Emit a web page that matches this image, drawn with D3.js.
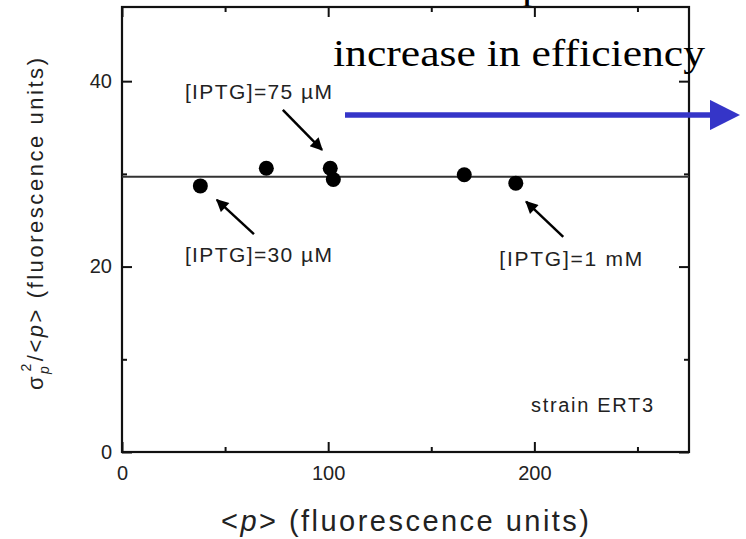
<!DOCTYPE html>
<html><head><meta charset="utf-8">
<script src="https://cdn.jsdelivr.net/npm/d3@7"></script>
<style>body{margin:0;background:#fff}svg{display:block}</style>
</head><body><svg id="c" width="746" height="539"></svg>
<script>
// data
const meanP = [38, 70, 101, 102.5, 166, 191];
const noiseStrength = [28.7, 30.6, 30.6, 29.4, 29.9, 29.0];
const fitLevel = 29.7;
const xTicksMajor = [0, 100, 200];
const xTicksMinor = [50, 150, 250];
const yTicksMajor = [0, 20, 40];
const yTicksMinor = [10, 30];
const annotations = [
  {label: "[IPTG]=75 µM", from: [78, 36.9], to: [97, 32.6], tx: 30.5, ty: 38.1, w: 147},
  {label: "[IPTG]=30 µM", from: [64, 23.5], to: [46, 27.2], tx: 30.5, ty: 20.5, w: 147},
  {label: "[IPTG]=1 mM", from: [214, 23.2], to: [196, 27.0], tx: 183, ty: 20.1, w: 143}
];

const svg = d3.select("#c");
const L = 122, R = 689, T = 7, B = 452;
const x = d3.scaleLinear().domain([0, 275]).range([L, R]);
const y = d3.scaleLinear().domain([0, 48]).range([B, T]);
const SANS = "Liberation Sans, Arial, sans-serif";

const defs = svg.append("defs");
defs.append("marker").attr("id","ah").attr("viewBox","0 0 10 10").attr("refX",9).attr("refY",5)
  .attr("markerWidth",5.5).attr("markerHeight",5).attr("orient","auto")
  .append("path").attr("d","M0,0 L10,5 L0,10 z").attr("fill","#000");
defs.append("marker").attr("id","bh").attr("viewBox","0 0 10 10").attr("refX",2).attr("refY",5)
  .attr("markerWidth",5.5).attr("markerHeight",5.5).attr("markerUnits","strokeWidth").attr("orient","auto")
  .append("path").attr("d","M0,0 L10,5 L0,10 z").attr("fill","#3535c8");

// clipped slide title fragment (only the descender shows, as in the reference)
svg.append("text").attr("x",522).attr("y",-2).attr("font-family","Liberation Serif")
  .attr("font-size",44).text("p");

// axes (ticks inward)
const tickFmt = d3.format("d");
svg.append("g").attr("transform",`translate(0,${B})`)
  .call(d3.axisBottom(x).tickValues(xTicksMajor).tickSize(-10).tickPadding(14).tickFormat(tickFmt));
svg.append("g").attr("transform",`translate(0,${T})`)
  .call(d3.axisTop(x).tickValues(xTicksMajor).tickSize(-10).tickFormat(""));
svg.append("g").attr("transform",`translate(${L},0)`)
  .call(d3.axisLeft(y).tickValues(yTicksMajor).tickSize(-10).tickPadding(10).tickFormat(tickFmt));
svg.append("g").attr("transform",`translate(${R},0)`)
  .call(d3.axisRight(y).tickValues(yTicksMajor).tickSize(-10).tickFormat(""));
svg.append("g").attr("transform",`translate(0,${B})`).call(d3.axisBottom(x).tickValues(xTicksMinor).tickSize(-5).tickFormat(""));
svg.append("g").attr("transform",`translate(0,${T})`).call(d3.axisTop(x).tickValues(xTicksMinor).tickSize(-5).tickFormat(""));
svg.append("g").attr("transform",`translate(${L},0)`).call(d3.axisLeft(y).tickValues(yTicksMinor).tickSize(-5).tickFormat(""));
svg.append("g").attr("transform",`translate(${R},0)`).call(d3.axisRight(y).tickValues(yTicksMinor).tickSize(-5).tickFormat(""));
svg.selectAll(".domain").remove();
svg.selectAll(".tick line").attr("stroke","#111").attr("stroke-width",2);
svg.selectAll(".tick text").attr("font-family",SANS).attr("font-size",20).attr("fill","#222");
svg.append("rect").attr("x",L).attr("y",T).attr("width",R-L).attr("height",B-T)
  .attr("fill","none").attr("stroke","#111").attr("stroke-width",2.2);

// fit line
svg.append("line").attr("x1",x(0)).attr("x2",x(275)).attr("y1",y(fitLevel)).attr("y2",y(fitLevel))
  .attr("stroke","#333").attr("stroke-width",2);

// points
svg.selectAll("circle.pt").data(meanP.map((v,i)=>[v,noiseStrength[i]])).enter().append("circle")
  .attr("class","pt").attr("cx",d=>x(d[0])).attr("cy",d=>y(d[1])).attr("r",7.5).attr("fill","#000");

// annotations
annotations.forEach(a=>{
  svg.append("line").attr("x1",x(a.from[0])).attr("y1",y(a.from[1])).attr("x2",x(a.to[0])).attr("y2",y(a.to[1]))
    .attr("stroke","#000").attr("stroke-width",2.5).attr("marker-end","url(#ah)");
  svg.append("text").attr("x",x(a.tx)).attr("y",y(a.ty)).attr("font-family",SANS)
    .attr("font-size",21).attr("fill","#222").attr("textLength",a.w).attr("lengthAdjust","spacing").text(a.label);
});
svg.append("text").attr("x",531).attr("y",412).attr("font-family",SANS)
  .attr("font-size",20).attr("fill","#222").attr("textLength",122).attr("lengthAdjust","spacing").text("strain ERT3");

// blue arrow + text
svg.append("line").attr("x1",345).attr("x2",716).attr("y1",115).attr("y2",115)
  .attr("stroke","#3535c8").attr("stroke-width",5.5).attr("marker-end","url(#bh)");
svg.append("text").attr("x",333).attr("y",66).attr("font-family","Liberation Serif, Times New Roman, serif")
  .attr("font-size",38).attr("fill","#000").attr("textLength",372).attr("lengthAdjust","spacingAndGlyphs")
  .text("increase in efficiency");

// axis titles
const xt = svg.append("text").attr("x",221).attr("y",531)
  .attr("font-family",SANS).attr("font-size",29).attr("fill","#222")
  .attr("textLength",368).attr("lengthAdjust","spacing");
xt.append("tspan").text("<");
xt.append("tspan").attr("font-style","italic").text("p");
xt.append("tspan").text("> (fluorescence units)");

const yt = svg.append("text").attr("transform","translate(43,390) rotate(-90)")
  .attr("font-family",SANS).attr("font-size",22).attr("fill","#222")
  .attr("textLength",332).attr("lengthAdjust","spacing");
yt.append("tspan").text("σ");
yt.append("tspan").attr("font-size",14).attr("font-style","italic").attr("dy",6).text("p");
yt.append("tspan").attr("font-size",14).attr("dx",-8).attr("dy",-18).text("2");
yt.append("tspan").attr("dy",12).text("/<");
yt.append("tspan").attr("font-style","italic").text("p");
yt.append("tspan").text("> (fluorescence units)");
</script></body></html>
